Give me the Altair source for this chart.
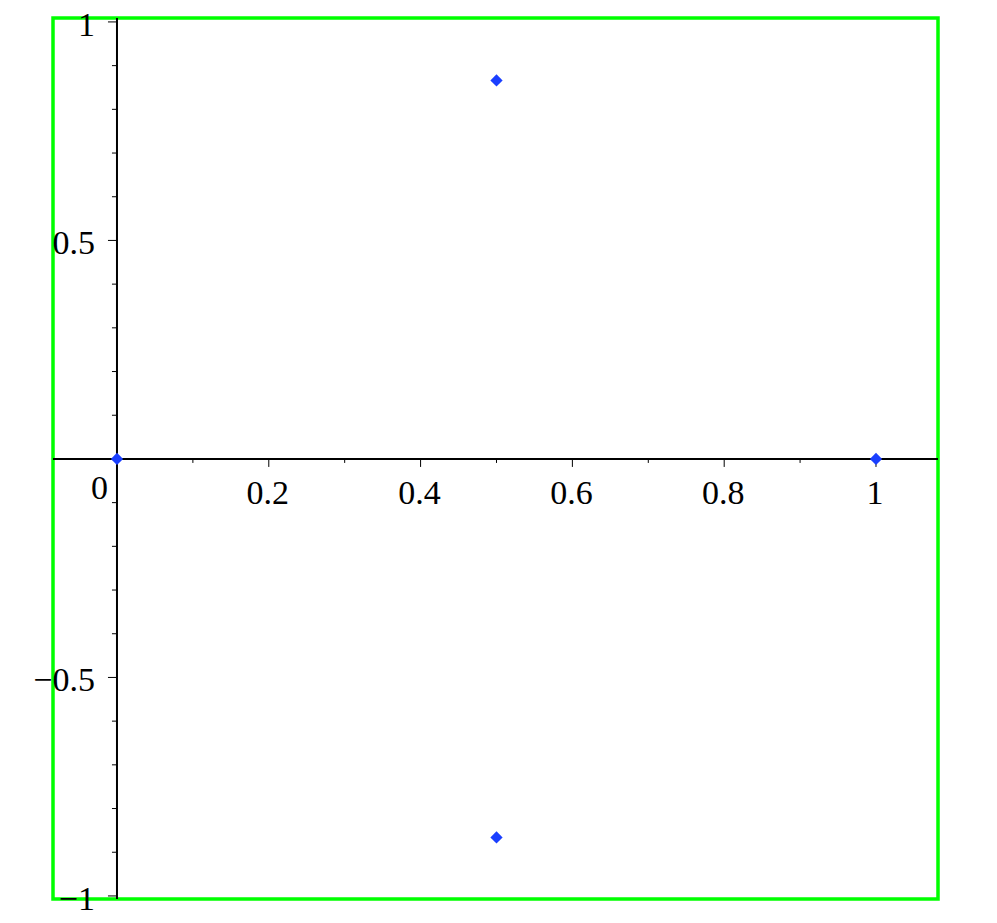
import altair as alt
import pandas as pd

# data points
px = [0.0, 0.5, 0.5, 1.0]
py = [0.0, 0.8660, -0.8660, 0.0]

# ticks / labels
x_minor = [0.1, 0.3, 0.5, 0.7, 0.9]
x_major = [0.2, 0.4, 0.6, 0.8, 1.0]
x_labels = ["0.2", "0.4", "0.6", "0.8", "1"]
y_minor = [-0.9, -0.8, -0.7, -0.6, -0.4, -0.3, -0.2, -0.1, 0.1, 0.2, 0.3, 0.4, 0.6, 0.7, 0.8, 0.9]
y_major = [-1.0, -0.5, 0.5, 1.0]
y_labels = ["\u22121", "\u22120.5", "0.5", "1"]

XDOM = [-0.0843, 1.0817]
YDOM = [-1.007, 1.009]
W, H = 885, 881
FONT = "Liberation Serif"
FS = 34

xs = alt.Scale(domain=XDOM, nice=False, zero=False)
ys = alt.Scale(domain=YDOM, nice=False, zero=False)

pts = pd.DataFrame({"x": px, "y": py})
origin = pd.DataFrame({"z": [0.0], "t": ["0"]})
xmin = pd.DataFrame({"v": x_minor, "z": 0.0})
xmaj = pd.DataFrame({"v": x_major, "t": x_labels, "z": 0.0})
ymin = pd.DataFrame({"v": y_minor, "z": 0.0})
ymaj = pd.DataFrame({"v": y_major, "t": y_labels, "z": 0.0})

X = lambda f: alt.X(f, type="quantitative", scale=xs, axis=None)
Y = lambda f: alt.Y(f, type="quantitative", scale=ys, axis=None)

xaxis = alt.Chart(origin).mark_rule(color="black", strokeWidth=2).encode(
    y=Y("z"), x=alt.value(0), x2=alt.value(W))
yaxis = alt.Chart(origin).mark_rule(color="black", strokeWidth=2).encode(
    x=X("z"), y=alt.value(0), y2=alt.value(H))

xt_min = alt.Chart(xmin).mark_rule(color="black", strokeWidth=1, y2Offset=4).encode(
    x=X("v"), y=Y("z"), y2="z:Q")
xt_maj = alt.Chart(xmaj).mark_rule(color="black", strokeWidth=1, y2Offset=8).encode(
    x=X("v"), y=Y("z"), y2="z:Q")
yt_min = alt.Chart(ymin).mark_rule(color="black", strokeWidth=1, x2Offset=-5).encode(
    y=Y("v"), x=X("z"), x2="z:Q")
yt_maj = alt.Chart(ymaj).mark_rule(color="black", strokeWidth=1, x2Offset=-9).encode(
    y=Y("v"), x=X("z"), x2="z:Q")

xlab = alt.Chart(xmaj).mark_text(font=FONT, fontSize=FS, align="center", baseline="alphabetic", dy=45, dx=-1).encode(
    x=X("v"), y=Y("z"), text="t:N")
ylab = alt.Chart(ymaj).mark_text(font=FONT, fontSize=FS, align="right", baseline="alphabetic", dx=-22, dy=14).encode(
    y=Y("v"), x=X("z"), text="t:N")
zlab = alt.Chart(origin).mark_text(font=FONT, fontSize=FS, align="right", baseline="alphabetic", dx=-9, dy=40).encode(
    x=X("z"), y=Y("z"), text="t:N")

points = alt.Chart(pts).mark_point(shape="diamond", filled=True, size=150, color="#1a3fff", opacity=1).encode(
    x=X("x"), y=Y("y"))

chart = alt.layer(xaxis, yaxis, xt_min, xt_maj, yt_min, yt_maj, xlab, ylab, zlab, points).properties(
    width=W, height=H,
    autosize=alt.AutoSizeParams(type="none"),
    padding={"left": 45, "top": 10, "right": 40, "bottom": 20},
    background="white",
).configure_view(stroke="#00ff00", strokeWidth=3.5)

chart.save("out.html", embed_options={"renderer": "svg", "actions": False})
